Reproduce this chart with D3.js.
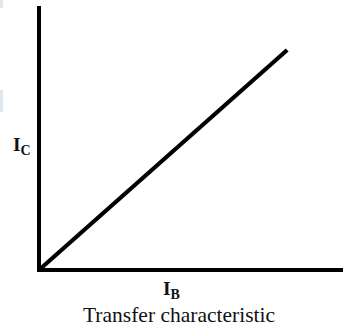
<!DOCTYPE html>
<html><head><meta charset="utf-8">
<script src="https://cdn.jsdelivr.net/npm/d3@7"></script>
<style>html,body{margin:0;padding:0;background:#fff;}svg{display:block;}</style>
</head><body>
<script>
// Data (arbitrary units, linear transfer characteristic)
const IB = [0, 8];
const IC = [0, 8];
const xLabel = ["I", "B"];
const yLabel = ["I", "C"];
const caption = "Transfer characteristic";

const W = 350, H = 329;
const svg = d3.select("body").append("svg").attr("width", W).attr("height", H);

// faint bluish artefacts at left edge
svg.append("rect").attr("x",0).attr("y",0).attr("width",3).attr("height",8).attr("fill","#dfe7f1");
svg.append("rect").attr("x",0).attr("y",90).attr("width",3).attr("height",22).attr("fill","#dfe7f1");

const x = d3.scaleLinear().domain([0, 9.8]).range([39, 343]);
const y = d3.scaleLinear().domain([0, 9.6]).range([270, 6]);

// axes
svg.append("path")
  .attr("d", `M${x(0)},${y(9.6)} V${y(0)} H${x(9.8)}`)
  .attr("fill","none").attr("stroke","#000").attr("stroke-width",4)
  .attr("stroke-linejoin","miter");

// characteristic line
const pts = IB.map((d,i)=>[d, IC[i]]);
svg.append("path")
  .datum(pts)
  .attr("d", d3.line().x(d=>x(d[0])).y(d=>y(d[1])))
  .attr("fill","none").attr("stroke","#000").attr("stroke-width",4.2);

// labels
const font = "'Liberation Serif','Times New Roman',serif";
const yl = svg.append("text").attr("x",13).attr("y",151)
  .attr("font-family",font).attr("font-weight","bold").attr("font-size",19.5).attr("fill","#111");
yl.append("tspan").text(yLabel[0]);
yl.append("tspan").attr("dy",4).attr("font-size",14).text(yLabel[1]);

const xl = svg.append("text").attr("x",163).attr("y",295)
  .attr("font-family",font).attr("font-weight","bold").attr("font-size",19.5).attr("fill","#111");
xl.append("tspan").text(xLabel[0]);
xl.append("tspan").attr("dy",4).attr("font-size",14).text(xLabel[1]);

svg.append("text").attr("x",179).attr("y",322).attr("text-anchor","middle")
  .attr("font-family",font).attr("font-size",21.5).attr("fill","#111").text(caption);
</script>
</body></html>
